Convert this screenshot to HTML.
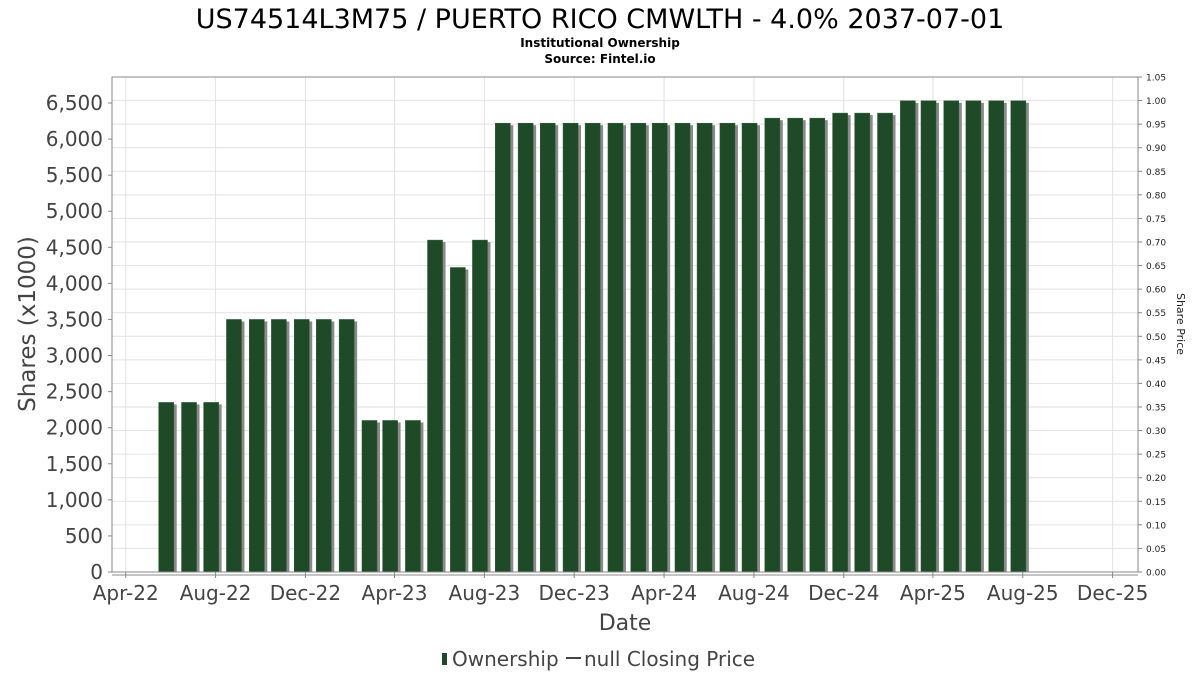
<!DOCTYPE html>
<html><head><meta charset="utf-8"><style>
body{margin:0;background:#fff;}
svg{font-family:"DejaVu Sans","Liberation Sans",sans-serif;}
</style></head><body>
<svg id="chart" width="1200" height="675" viewBox="0 0 1200 675">
<text x="600" y="28" text-anchor="middle" font-size="27" fill="#000">US74514L3M75 / PUERTO RICO CMWLTH - 4.0% 2037-07-01</text>
<text x="600" y="47" text-anchor="middle" font-size="12" font-weight="bold" fill="#000">Institutional Ownership</text>
<text x="600" y="63" text-anchor="middle" font-size="12" font-weight="bold" fill="#000">Source: Fintel.io</text>
<g id="grid"></g>
<g id="bars"></g>
<rect x="112" y="77" width="1026" height="495" fill="none" stroke="#888" stroke-width="1"/>
<g id="axes"></g>
<text transform="translate(35,324) rotate(-90)" text-anchor="middle" font-size="23" fill="#444">Shares (x1000)</text>
<text transform="translate(1177,324) rotate(90)" text-anchor="middle" font-size="11" fill="#222">Share Price</text>
<text x="625" y="630" text-anchor="middle" font-size="22" fill="#444">Date</text>
<g>
<rect x="442" y="653" width="5" height="12" fill="#1e4a28"/>
<text x="452" y="666" font-size="20" fill="#444">Ownership</text>
<line x1="566" y1="658" x2="581" y2="658" stroke="#444" stroke-width="2"/>
<text x="584" y="666" font-size="20" fill="#444">null Closing Price</text>
</g>
</svg>
<script>
const months = ["2022-05","2022-06","2022-07","2022-08","2022-09","2022-10","2022-11","2022-12","2023-01","2023-02","2023-03","2023-04","2023-05","2023-06","2023-07","2023-08","2023-09","2023-10","2023-11","2023-12","2024-01","2024-02","2024-03","2024-04","2024-05","2024-06","2024-07","2024-08","2024-09","2024-10","2024-11","2024-12","2025-01","2025-02","2025-03","2025-04","2025-05","2025-06","2025-07"];
const shares = [2350,2350,2350,3500,3500,3500,3500,3500,3500,2100,2100,2100,4600,4220,4600,6220,6220,6220,6220,6220,6220,6220,6220,6220,6220,6220,6220,6290,6290,6290,6360,6360,6360,6530,6530,6530,6530,6530,6530];
const yTicks = [0,500,1000,1500,2000,2500,3000,3500,4000,4500,5000,5500,6000,6500];
const priceTicks = [0,0.05,0.10,0.15,0.20,0.25,0.30,0.35,0.40,0.45,0.50,0.55,0.60,0.65,0.70,0.75,0.80,0.85,0.90,0.95,1.00,1.05];
const xTickLabels = ["Apr-22","Aug-22","Dec-22","Apr-23","Aug-23","Dec-23","Apr-24","Aug-24","Dec-24","Apr-25","Aug-25","Dec-25"];
const xTickDates = ["2022-04-01","2022-08-01","2022-12-01","2023-04-01","2023-08-01","2023-12-01","2024-04-01","2024-08-01","2024-12-01","2025-04-01","2025-08-01","2025-12-01"];

const NS="http://www.w3.org/2000/svg";
const t0=Date.UTC(2022,3,1);
function xDate(s){const p=s.split("-");const d=Date.UTC(+p[0],+p[1]-1,p[2]?+p[2]:26);return 125.7+(d-t0)/864e5*0.7365;}
function yS(v){return 572-v*469/6500;}
function yP(v){return 572-v*495/1.05;}
function mk(tag,attrs,parent){const e=document.createElementNS(NS,tag);for(const k in attrs)e.setAttribute(k,attrs[k]);parent.appendChild(e);return e;}
const grid=document.getElementById("grid"),bars=document.getElementById("bars"),axes=document.getElementById("axes");
mk("rect",{x:112,y:77,width:1026,height:495,fill:"#fff"},grid);
priceTicks.forEach(v=>{const y=yP(v);
 const l=mk("line",{x1:112,x2:1138,y1:y,y2:y,stroke:"#e2e2e2"},grid);
 
 
 mk("line",{x1:1138,x2:1142,y1:y,y2:y,stroke:"#888"},axes);
 const t=mk("text",{x:1146,y:y+3.5,"font-size":"9",fill:"#222"},axes);t.textContent=v.toFixed(2);
 
 
});
yTicks.forEach(v=>{const y=yS(v);
 mk("line",{x1:108,x2:112,y1:y,y2:y,stroke:"#888"},axes);
 const t=mk("text",{x:103,y:y+7,"font-size":"20","text-anchor":"end",fill:"#444"},axes);t.textContent=v.toLocaleString("en-US");
 
 
});
xTickDates.forEach((d,i)=>{const x=xDate(d);
 const l=mk("line",{x1:x,x2:x,y1:77,y2:572,stroke:"#e2e2e2"},grid);
 
 
 mk("line",{x1:x,x2:x,y1:572,y2:578,stroke:"#888"},axes);
 const t=mk("text",{x:x,y:600,"font-size":"20","text-anchor":"middle",fill:"#444"},axes);t.textContent=xTickLabels[i];
 
 
});
mk("line",{x1:112,x2:1138,y1:575,y2:575,stroke:"#888"},axes);
months.forEach((m,i)=>{const cx=xDate(m);const y=yS(shares[i]);const w=15;
 mk("rect",{x:cx-w/2+3,y:y+2,width:w,height:572-y-2,fill:"#8a8a8a"},bars);
 const b=mk("rect",{x:cx-w/2,y:y,width:w,height:572-y,fill:"#1e4a28",stroke:"#2c5a34","stroke-width":"0.5"},bars);
 
 
});
</script>
</body></html>
